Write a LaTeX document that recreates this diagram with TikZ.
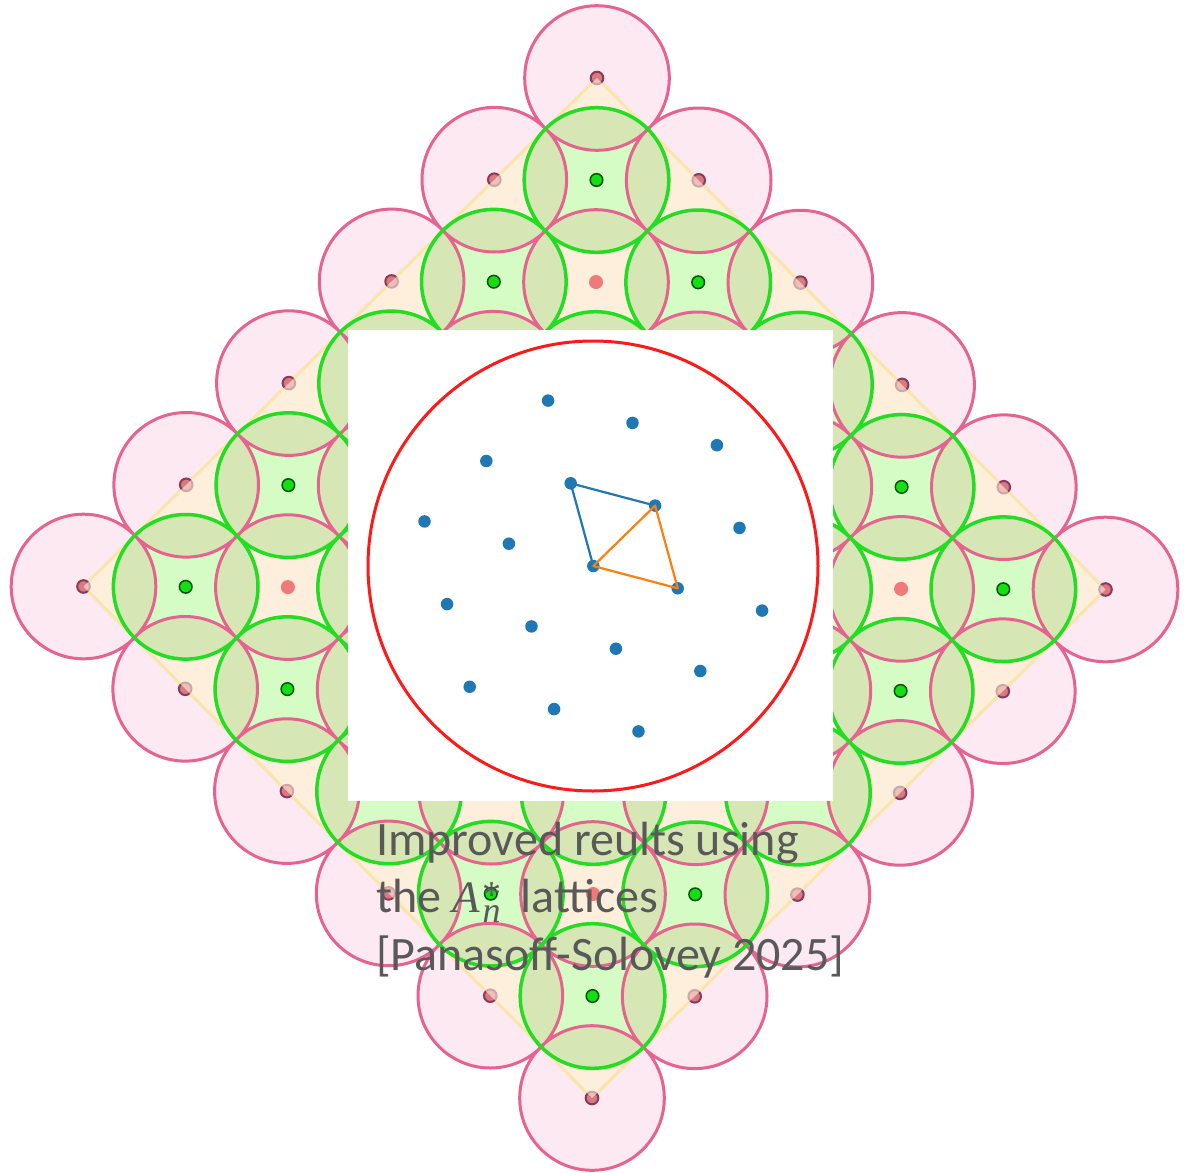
\documentclass[tikz,border=0pt]{standalone}
\usepackage{fontspec}
\setmainfont{Carlito}
\newfontfamily\capserif{Liberation Serif}
\definecolor{pinkfill}{HTML}{FCE9F1}
\definecolor{creamfill}{HTML}{FDEFDC}
\definecolor{greenfill}{HTML}{D6FCC6}
\definecolor{lensfill}{HTML}{D6E6B4}
\definecolor{pinkline}{HTML}{E5638E}
\definecolor{greenline}{HTML}{22DD22}
\definecolor{edgeyellow}{HTML}{FAE6AC}
\definecolor{pinkdot}{HTML}{D87A80}
\definecolor{pinkrim}{HTML}{8A3A5C}
\definecolor{innerdot}{HTML}{F07A7A}
\definecolor{greendot}{HTML}{12E012}
\definecolor{greenrim}{HTML}{0B500B}
\definecolor{mplblue}{HTML}{1F77B4}
\definecolor{mplorange}{HTML}{FF7F0E}
\definecolor{ringred}{HTML}{FF1A1A}
\definecolor{textgray}{HTML}{595959}
\def\bpink{0/0,-1/1,1/1,-2/2,2/2,-3/3,3/3,-4/4,4/4,-5/5,5/5,-4/6,4/6,-3/7,3/7,-2/8,2/8,-1/9,1/9,0/10}
\def\ipink{0/2,-1/3,1/3,-2/4,0/4,2/4,-3/5,-1/5,1/5,3/5,-2/6,0/6,2/6,-1/7,1/7,0/8}
\def\gpts{0/1,-1/2,1/2,-2/3,0/3,2/3,-3/4,-1/4,1/4,3/4,-4/5,-2/5,0/5,2/5,4/5,-3/6,-1/6,1/6,3/6,-2/7,0/7,2/7,-1/8,1/8,0/9}
\newcommand\Astar{{\capserif\itshape\fontsize{45}{45}\selectfont A}\hspace{3pt}\rlap{\raisebox{5pt}{\capserif\fontsize{38}{38}\selectfont *}}\raisebox{-9.5pt}{\capserif\itshape\fontsize{36}{36}\selectfont n}\hspace{9pt}}
\tikzset{
  bdot/.style={circle, fill=mplblue, inner sep=0pt, minimum size=12.5pt},
  captxt/.style={anchor=base west, inner sep=0pt, text=textgray, font=\fontsize{48pt}{57pt}\selectfont},
  rr/.style={radius=72.3pt}
}
\begin{document}
\begin{tikzpicture}[x=1pt,y=-1pt]
\useasboundingbox[fill=white] (0,0) rectangle (1192,1173);
% ---- lattice of circles ----
\begin{scope}[shift={(597pt,-78pt)}, x={(102.2pt,-0.3pt)}, y={(-0.5pt,-102pt)}]
  \path[fill=pinkfill]
    \foreach \a/\b in \bpink {(\a,\b) circle[rr]}
    \foreach \a/\b in \ipink {(\a,\b) circle[rr]};
  \fill[creamfill] (0,0) -- (5,5) -- (0,10) -- (-5,5) -- cycle;
  \draw[edgeyellow, line width=3pt, line join=round] (0,0) -- (5,5) -- (0,10) -- (-5,5) -- cycle;
  \path[fill=greenfill] \foreach \a/\b in \gpts {(\a,\b) circle[rr]};
  \begin{scope}
    \clip \foreach \a/\b in \gpts {(\a,\b) circle[rr]};
    \path[fill=lensfill]
      \foreach \a/\b in \bpink {(\a,\b) circle[rr]}
      \foreach \a/\b in \ipink {(\a,\b) circle[rr]};
  \end{scope}
  \path[draw=pinkline, line width=3pt]
    \foreach \a/\b in \bpink {(\a,\b) circle[rr]}
    \foreach \a/\b in \ipink {(\a,\b) circle[rr]};
  \path[draw=greenline, line width=3.5pt] \foreach \a/\b in \gpts {(\a,\b) circle[rr]};
  % dots
  \foreach \a/\b in \ipink {\fill[innerdot] (\a,\b) circle[radius=7pt];}
  \foreach \a/\b in \bpink {\filldraw[fill=pinkdot, draw=pinkrim, line width=2pt] (\a,\b) circle[radius=6.3pt];}
  \begin{scope}
    \clip (0,0) -- (5,5) -- (0,10) -- (-5,5) -- cycle;
    \foreach \a/\b in \bpink {\fill[creamfill, opacity=0.6] (\a,\b) circle[radius=9pt];}
  \end{scope}
  \foreach \a/\b in \gpts {\filldraw[fill=greendot, draw=greenrim, line width=1.5pt] (\a,\b) circle[radius=6.3pt];}
\end{scope}
% ---- inset panel ----
\node[fill=white, inner sep=0pt, minimum width=485pt, minimum height=471pt, anchor=north west] (panel) at (348,330) {};
\node[draw=ringred, line width=3pt, circle, inner sep=0pt, minimum size=450pt] (ring) at (593,566) {};
\begin{scope}[shift={(593.3pt,-566pt)}, x={(84.4pt,-22.3pt)}, y={(-22.6pt,82.7pt)}]
  \foreach \i/\j in {0/2,1/2,2/2,-1/1,0/1,1/1,2/1,-2/0,-1/0,0/0,1/0,2/0,-2/-1,-1/-1,0/-1,1/-1,-2/-2,-1/-2,0/-2}{
    \pgfmathtruncatemacro\ii{\i+2}
    \pgfmathtruncatemacro\jj{\j+2}
    \node[bdot] (q\ii\jj) at (\i,\j) {};
  }
\end{scope}
\draw[mplblue, line width=2.2pt, line cap=round] (q23.center) -- (q33.center);
\draw[mplblue, line width=2.2pt, line cap=round] (q23.center) -- (q22.center);
\draw[mplorange, line width=2.2pt, line join=round, line cap=round] (q22.center) -- (q33.center) -- (q32.center) -- (q22.center);
% ---- caption ----
\node[captxt] (cap1) at (376,855) {Improved reults using};
\node[captxt] (cap2) at (376,912.5) {the \Astar\ lattices};
\node[captxt] (cap3) at (376,970) {[Panasoff-Solovey 2025]};
\end{tikzpicture}
\end{document}
